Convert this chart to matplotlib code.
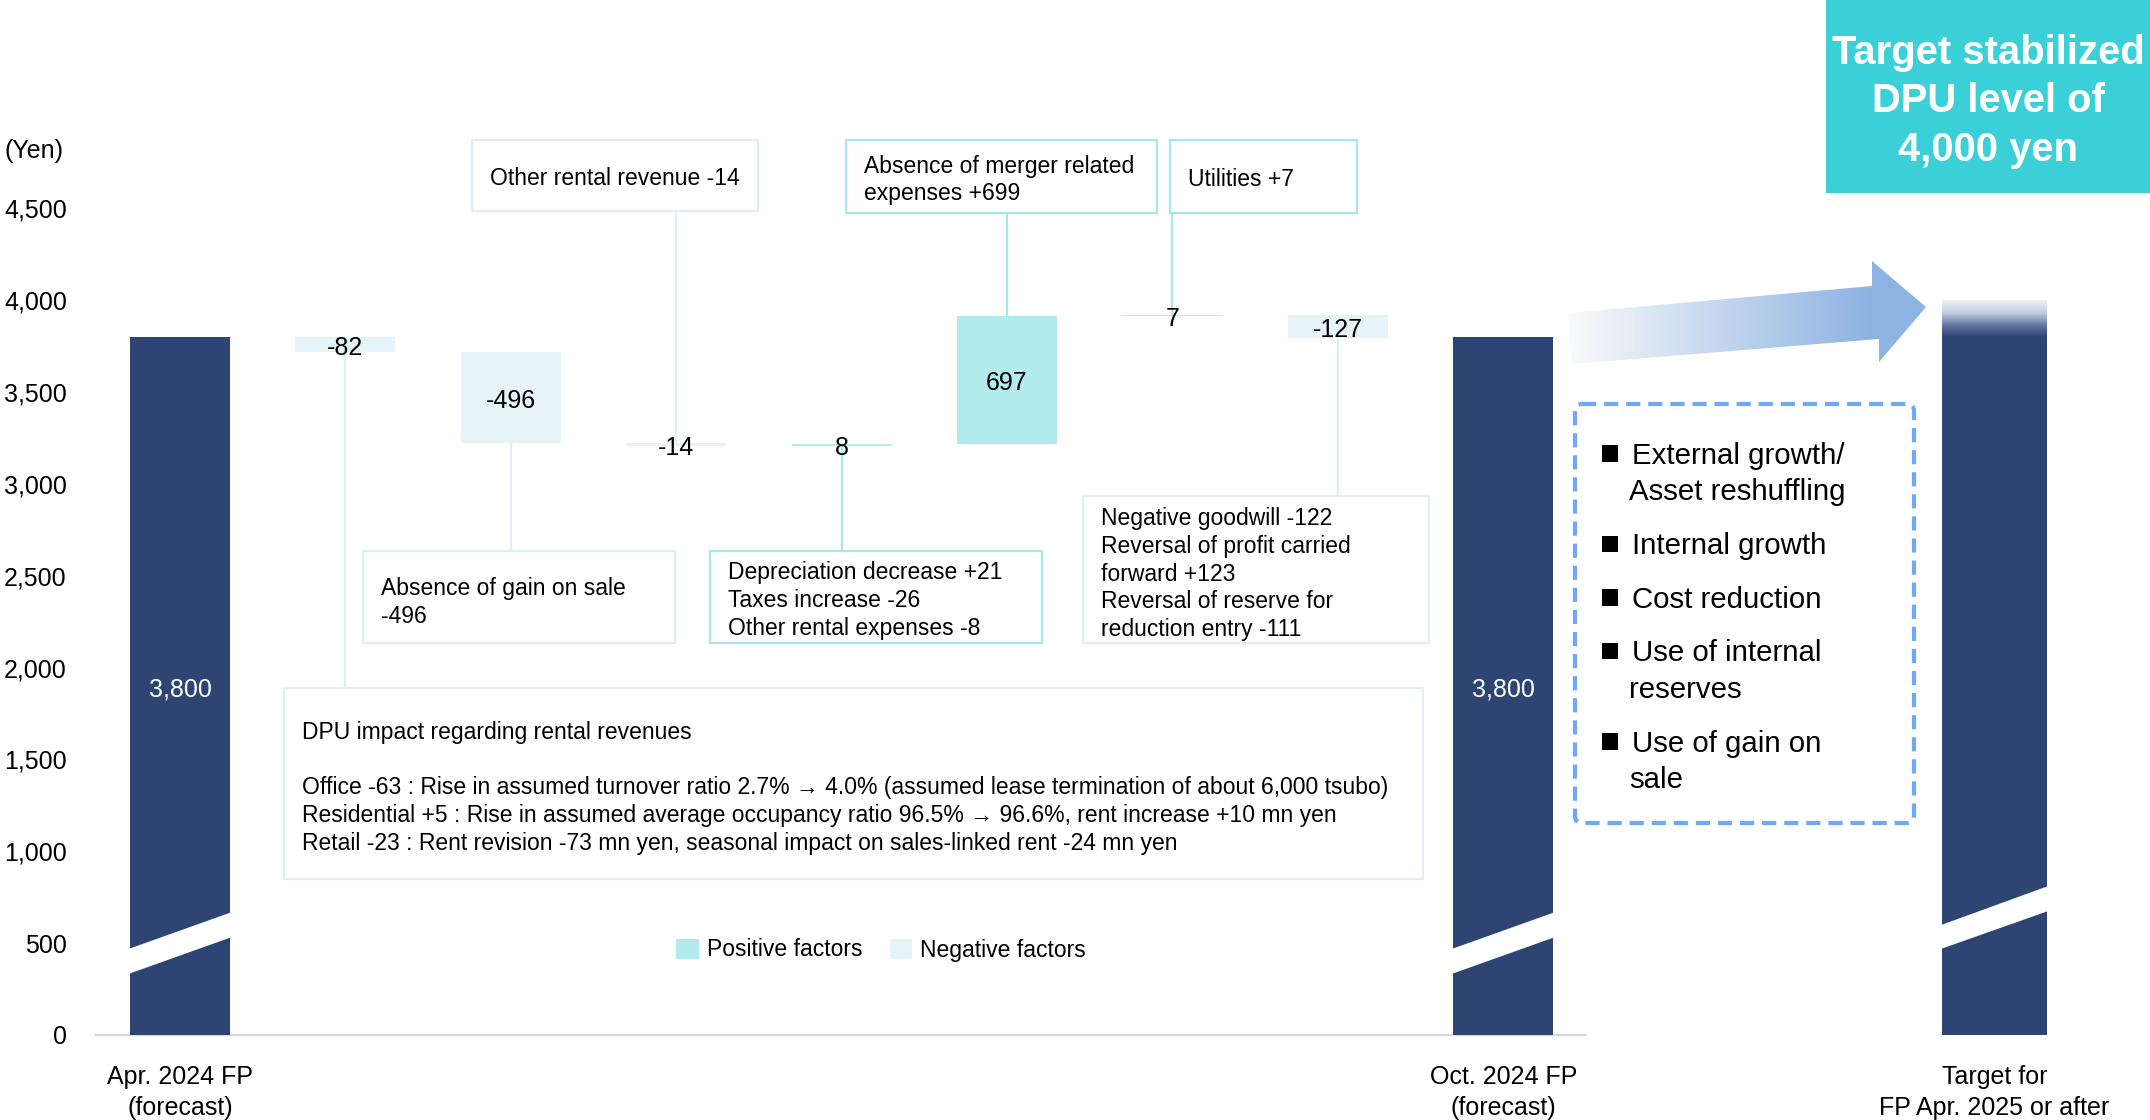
import numpy as np
import matplotlib.pyplot as plt
from matplotlib.patches import Rectangle, Polygon, FancyBboxPatch, Patch
from matplotlib.colors import LinearSegmentedColormap, to_rgb
from matplotlib.ticker import FuncFormatter
from matplotlib.transforms import blended_transform_factory, offset_copy

plt.rcParams['font.family'] = ['Liberation Sans', 'DejaVu Sans']

# ---- data ----
start_value = 3800
end_value = 3800
target_value = 4000
step_values = [-82, -496, -14, 8, 697, 7, -127]
x_labels = [("Apr. 2024 FP", "(forecast)"),
            ("Oct. 2024 FP", "(forecast)"),
            ("Target for", "FP Apr. 2025 or after")]
step_notes = [
    ["DPU impact regarding rental revenues", "",
     "Office -63 : Rise in assumed turnover ratio 2.7% \u2192 4.0% (assumed lease termination of about 6,000 tsubo)",
     "Residential +5 : Rise in assumed average occupancy ratio 96.5% \u2192 96.6%, rent increase +10 mn yen",
     "Retail -23 : Rent revision -73 mn yen, seasonal impact on sales-linked rent -24 mn yen"],
    ["Absence of gain on sale", "-496"],
    ["Other rental revenue -14"],
    ["Depreciation decrease +21", "Taxes increase -26", "Other rental expenses -8"],
    ["Absence of merger related", "expenses +699"],
    ["Utilities +7"],
    ["Negative goodwill -122", "Reversal of profit carried", "forward +123",
     "Reversal of reserve for", "reduction entry -111"],
]
strategies = [["External growth/", "Asset reshuffling"], ["Internal growth"],
              ["Cost reduction"], ["Use of internal", "reserves"],
              ["Use of gain on", "sale"]]
target_title = ["Target stabilized", "DPU level of", "4,000 yen"]
yticks = list(range(0, 4501, 500))

# ---- style / layout (pixel units on the 2150x1120 canvas) ----
W, H = 2150, 1120
dark = '#2E4573'
pos_c = '#B2EBED'
neg_c = '#E6F3F7'
pos_edge = '#A9E6EA'
neg_edge = '#E0EFF4'
teal = '#3BD0D8'
arrow_blue = '#8DB3E2'
dash_blue = '#6EA8F6'
bar_w = 0.605
x_start, x_end, x_target = 0, 8, 10.97
# note boxes: left, top, right, bottom, first text line y
note_boxes = [(284, 688, 1423, 879, 729), (363, 551, 675, 643, 585.5),
              (472, 140, 758, 211, 175.5), (710, 551, 1042, 643, 570),
              (846, 140, 1157, 213, 163), (1170, 140, 1357, 213, 177),
              (1083, 496, 1429, 643, 515.5)]
line_pitch = 27.8
fs_note = 16.5
fs_tick = 18
dy = 3  # visual centring of text lines

fig = plt.figure(figsize=(W / 100, H / 100), dpi=100)
ax = fig.add_axes([96 / W, (H - 1035) / H, (W - 96) / W, 1035 / H])
ov = fig.add_axes([0, 0, 1, 1], zorder=3)
ov.set_xlim(0, W)
ov.set_ylim(H, 0)
ov.axis('off')
ov.patch.set_alpha(0)

x0 = -0.508
xlim = (x0, x0 + (W - 96) / 165.4)
ylim = (0, 1035 / ((1035 - 208.5) / 4500))
lab_tr = offset_copy(ax.transData, fig=fig, y=-dy, units='dots')

# ---- waterfall ----
steps = np.array(step_values)
levels = start_value + np.cumsum(steps)
prev = np.concatenate([[start_value], levels[:-1]])
bottoms = np.minimum(prev, levels)
heights = np.abs(steps)
xs = np.arange(1, len(steps) + 1)
colors = [pos_c if v > 0 else neg_c for v in steps]

ax.bar(xs, heights, bottom=bottoms, width=bar_w, color=colors, zorder=2)
ax.bar([x_start, x_end], [start_value, end_value], width=bar_w, color=dark, zorder=2)

fade = 200
ax.bar(x_target, target_value - fade, width=0.63, color=dark, zorder=2)
grad_cmap = LinearSegmentedColormap.from_list(
    'fade', [(0, dark), (0.3, '#5F739E'), (0.65, '#C3CCDF'), (1, '#EEF1F6')])
ax.imshow(np.linspace(0, 1, 100).reshape(-1, 1), cmap=grad_cmap, origin='lower',
          extent=(x_target - 0.315, x_target + 0.315, target_value - fade, target_value),
          aspect='auto', zorder=2)

# axis breaks on the tall bars
for xc, (l0, l1, r0, r1), hw in [(x_start, (332, 468, 533, 669), bar_w / 2),
                                  (x_end, (332, 468, 533, 669), bar_w / 2),
                                  (x_target, (468, 598, 675, 811), 0.315)]:
    ax.add_patch(Polygon([(xc - hw - 0.01, l0), (xc + hw + 0.01, r0),
                          (xc + hw + 0.01, r1), (xc - hw - 0.01, l1)],
                         closed=True, facecolor='white', edgecolor='none', zorder=3))

# value labels
for x, b, h, v in zip(xs, bottoms, heights, steps):
    ax.text(x, b + h / 2, f"{v}", ha='center', va='center', fontsize=fs_tick,
            zorder=5, transform=lab_tr)
for x, v in [(x_start, start_value), (x_end, end_value)]:
    ax.text(x, v / 2, f"{v:,}", ha='center', va='center', fontsize=fs_tick,
            color='white', zorder=5, transform=lab_tr)

ax.plot([x0, x_end + 0.5], [0, 0], color='#D9D9D9', lw=1.6, zorder=1, clip_on=False)

ax.set_xlim(*xlim)
ax.set_ylim(*ylim)
ax.set_xticks([])
ax.set_yticks(yticks)
ax.yaxis.set_major_formatter(FuncFormatter(lambda v, p: f"{int(v):,}"))
ax.tick_params(axis='y', length=0, pad=21, labelsize=fs_tick)
for s in ax.spines.values():
    s.set_visible(False)
ax.patch.set_alpha(0)


def py_to_data(py):
    return ax.transData.inverted().transform(ov.transData.transform((0, py)))[1]


# ---- note boxes and connectors ----
for x, b, h, v, lines, (l, t, r, btm, ty) in zip(xs, bottoms, heights, steps,
                                                 step_notes, note_boxes):
    edge = pos_edge if v > 0 else neg_edge
    ov.add_patch(Rectangle((l, t), r - l, btm - t, facecolor='white',
                           edgecolor=edge, lw=1.6))
    for i, line in enumerate(lines):
        ov.text(l + 18, ty + i * line_pitch + dy, line, ha='left', va='center',
                fontsize=fs_note)
    if t > 400:   # box below the bar
        ax.plot([x, x], [b, py_to_data(t)], color=edge, lw=1.6, zorder=1)
    else:
        ax.plot([x, x], [b + h, py_to_data(btm)], color=edge, lw=1.6, zorder=1)

# ---- x labels ----
xlab_tr = blended_transform_factory(ax.transData, ov.transData)
for x, (a, b) in zip([x_start, x_end, x_target], x_labels):
    ov.text(x, 1074 + dy, a, transform=xlab_tr, ha='center', va='center', fontsize=fs_tick)
    ov.text(x, 1105 + dy, b, transform=xlab_tr, ha='center', va='center', fontsize=fs_tick)

ov.text(4, 148 + dy, "(Yen)", ha='left', va='center', fontsize=fs_tick)

# ---- gradient arrow ----
arrow_pts = [(1568, 313), (1872, 286), (1872, 261), (1926, 307),
             (1879, 362), (1879, 339), (1572, 364)]
arrow_patch = Polygon(arrow_pts, closed=True, facecolor='none', edgecolor='none')
ov.add_patch(arrow_patch)
gx = np.linspace(1565, 1930, 300)
t = np.clip((gx - 1568) / (1872 - 1568), 0, 1)[None, :, None]
rgb = (1 - t) * np.array(to_rgb('#FAFAFA')) + t * np.array(to_rgb(arrow_blue))
img = ov.imshow(np.repeat(rgb, 2, axis=0), extent=(1565, 1930, 365, 258),
                aspect='auto', origin='lower', interpolation='bilinear')
img.set_clip_path(arrow_patch)
ov.set_xlim(0, W)
ov.set_ylim(H, 0)

# ---- dashed strategy box ----
ov.add_patch(FancyBboxPatch((1575, 404), 1914 - 1575, 823 - 404,
                            boxstyle='round,pad=0,rounding_size=7',
                            facecolor='none', edgecolor=dash_blue, lw=3,
                            linestyle=(0, (3.4, 1.9))))
y = 452.5
for item in strategies:
    ov.add_patch(Rectangle((1601.5, y - 7.5), 16.5, 16.5, facecolor='black',
                           edgecolor='none'))
    for j, line in enumerate(item):
        ov.text(1632 if j == 0 else 1629, y + dy, line, ha='left', va='center',
                fontsize=21.2)
        y += 37
    y += 53.5 - 37

# ---- target headline ----
ov.add_patch(Rectangle((1826, 0), W - 1826, 193, facecolor=teal, edgecolor='none'))
for i, line in enumerate(target_title):
    ov.text(1988, 50 + i * 48.5 + dy, line, ha='center', va='center', fontsize=28.8,
            fontweight='bold', color='white')

# ---- legend ----
fig.legend(handles=[Patch(facecolor=pos_c), Patch(facecolor=neg_c)],
           labels=["Positive factors", "Negative factors"], ncol=2, loc='center',
           bbox_to_anchor=(881 / W, 1 - (947 + dy) / H), frameon=False, fontsize=fs_note,
           handlelength=0.97, handleheight=0.97, handletextpad=0.35,
           columnspacing=1.2)

fig.savefig("out.png", dpi=100)
